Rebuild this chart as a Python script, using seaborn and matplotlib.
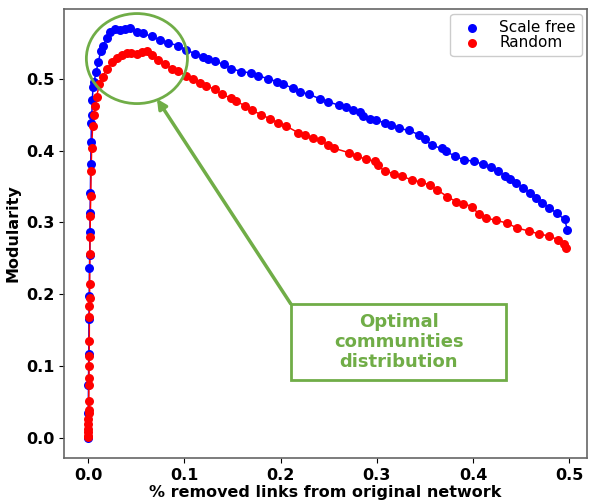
import pandas as pd
import numpy as np
import matplotlib.pyplot as plt
import seaborn as sns
from matplotlib.patches import Ellipse, Rectangle

# Scale free network: fraction of removed links vs modularity
sf_x = [0.0000, 0.0003, 0.0005, 0.0008, 0.0010, 0.0013, 0.0015, 0.0018, 0.0020, 0.0022,
        0.0025, 0.0028, 0.0032, 0.0036, 0.0040, 0.0045, 0.0052, 0.0062, 0.0085, 0.0107,
        0.0131, 0.0159, 0.0194, 0.0228, 0.028, 0.033, 0.038, 0.044, 0.0505, 0.057,
        0.066, 0.0747, 0.083, 0.0937, 0.1017, 0.111, 0.119, 0.125, 0.132, 0.141,
        0.149, 0.159, 0.169, 0.177, 0.187, 0.196, 0.203, 0.213, 0.220, 0.230,
        0.241, 0.249, 0.261, 0.268, 0.275, 0.283, 0.286, 0.293, 0.299, 0.308,
        0.315, 0.323, 0.333, 0.344, 0.350, 0.357, 0.368, 0.372, 0.381, 0.391,
        0.401, 0.410, 0.419, 0.426, 0.433, 0.438, 0.445, 0.452, 0.459, 0.465,
        0.472, 0.479, 0.487, 0.495, 0.498]
sf_y = [0.000, 0.035, 0.073, 0.117, 0.165, 0.197, 0.236, 0.254, 0.286, 0.313,
        0.341, 0.381, 0.412, 0.438, 0.450, 0.471, 0.488, 0.495, 0.510, 0.523,
        0.538, 0.546, 0.557, 0.565, 0.569, 0.568, 0.569, 0.570, 0.565, 0.563,
        0.559, 0.554, 0.550, 0.546, 0.540, 0.535, 0.530, 0.527, 0.524, 0.520,
        0.514, 0.510, 0.508, 0.504, 0.500, 0.496, 0.492, 0.487, 0.482, 0.478,
        0.472, 0.468, 0.463, 0.461, 0.457, 0.453, 0.448, 0.444, 0.442, 0.439,
        0.436, 0.431, 0.428, 0.422, 0.416, 0.407, 0.403, 0.399, 0.392, 0.387,
        0.385, 0.381, 0.377, 0.371, 0.365, 0.360, 0.355, 0.348, 0.341, 0.334,
        0.327, 0.320, 0.313, 0.304, 0.290]

# Random network
rn_x = [0.0000, 0.0001, 0.0002, 0.0003, 0.0004, 0.0005, 0.0006, 0.0007, 0.0008, 0.0009,
        0.0010, 0.0011, 0.0012, 0.0013, 0.0014, 0.0015, 0.0016, 0.0017, 0.0019, 0.0021,
        0.0024, 0.0028, 0.0032, 0.0038, 0.0048, 0.0060, 0.0073, 0.0090, 0.0117, 0.0152,
        0.0194, 0.0246, 0.0297, 0.035, 0.040, 0.045, 0.0505, 0.0556, 0.0608, 0.066,
        0.073, 0.080, 0.087, 0.0937, 0.102, 0.109, 0.116, 0.123, 0.132, 0.139,
        0.149, 0.154, 0.163, 0.170, 0.180, 0.189, 0.197, 0.206, 0.218, 0.225,
        0.234, 0.242, 0.249, 0.256, 0.271, 0.279, 0.289, 0.298, 0.301, 0.308,
        0.318, 0.326, 0.337, 0.346, 0.355, 0.363, 0.373, 0.382, 0.390, 0.399,
        0.406, 0.413, 0.424, 0.435, 0.446, 0.458, 0.468, 0.479, 0.488, 0.494,
        0.497]
rn_y = [0.001, 0.003, 0.008, 0.013, 0.019, 0.026, 0.034, 0.039, 0.052, 0.073,
        0.084, 0.100, 0.114, 0.135, 0.168, 0.184, 0.195, 0.214, 0.256, 0.279,
        0.309, 0.337, 0.371, 0.404, 0.434, 0.450, 0.462, 0.475, 0.492, 0.503,
        0.513, 0.523, 0.529, 0.533, 0.536, 0.536, 0.535, 0.537, 0.538, 0.533,
        0.526, 0.520, 0.514, 0.511, 0.504, 0.500, 0.494, 0.490, 0.485, 0.478,
        0.473, 0.469, 0.462, 0.456, 0.450, 0.444, 0.439, 0.434, 0.425, 0.422,
        0.417, 0.414, 0.408, 0.403, 0.397, 0.392, 0.388, 0.385, 0.380, 0.371,
        0.368, 0.364, 0.359, 0.356, 0.352, 0.345, 0.336, 0.329, 0.326, 0.322,
        0.311, 0.306, 0.303, 0.299, 0.292, 0.288, 0.284, 0.281, 0.276, 0.270,
        0.264]

green = '#70AD47'

sns.set_style("ticks")
plt.rcParams['font.family'] = ['DejaVu Sans']
plt.rcParams['text.color'] = 'black'
plt.rcParams['axes.labelcolor'] = 'black'
plt.rcParams['xtick.color'] = 'black'
plt.rcParams['ytick.color'] = 'black'

fig = plt.figure(figsize=(5.92, 5.0), dpi=100)
ax = fig.add_axes([0.108, 0.084, 0.883, 0.898])

sns.lineplot(x=sf_x, y=sf_y, color='blue', lw=1.1, sort=False, ax=ax, legend=False)
sns.lineplot(x=rn_x, y=rn_y, color='red', lw=1.1, sort=False, ax=ax, legend=False)
sns.scatterplot(x=sf_x, y=sf_y, color='blue', s=42, linewidth=0, ax=ax, label='Scale free', zorder=3)
sns.scatterplot(x=rn_x, y=rn_y, color='red', s=42, linewidth=0, ax=ax, label='Random', zorder=3)

ax.set_xlim(-0.025, 0.518)
ax.set_ylim(-0.028, 0.597)
ax.set_xticks([0.0, 0.1, 0.2, 0.3, 0.4, 0.5])
ax.set_yticks([0.0, 0.1, 0.2, 0.3, 0.4, 0.5])
for lab in ax.get_xticklabels() + ax.get_yticklabels():
    lab.set_fontweight('bold')
    lab.set_fontsize(11.5)
ax.set_xlabel('% removed links from original network', fontsize=11.5, fontweight='bold', labelpad=2)
ax.set_ylabel('Modularity', fontsize=11.5, fontweight='bold')
for sp in ax.spines.values():
    sp.set_color('0.4')
    sp.set_linewidth(1.2)

ax.legend(loc='upper right', fontsize=11, labelspacing=0.0, handletextpad=0.8,
          borderaxespad=0.3, markerscale=1.0, framealpha=1.0)

# annotation: circle, arrow and text box
ax.add_patch(Ellipse((0.0508, 0.528), 0.105, 0.1253, fill=False, ec=green, lw=2, zorder=4))
ax.annotate('', xy=(0.0716, 0.472), xytext=(0.2106, 0.1866),
            arrowprops=dict(arrowstyle='-|>', color=green, lw=2.5, mutation_scale=14, shrinkA=0, shrinkB=0))
ax.add_patch(Rectangle((0.2106, 0.0808), 0.224, 0.1058, fill=True, fc='white', ec=green, lw=2, zorder=4))
ax.text(0.3226, 0.1337, 'Optimal\ncommunities\ndistribution', color=green, fontsize=13,
        fontweight='bold', ha='center', va='center', linespacing=1.15, zorder=5)

plt.savefig('out.png', dpi=100)
